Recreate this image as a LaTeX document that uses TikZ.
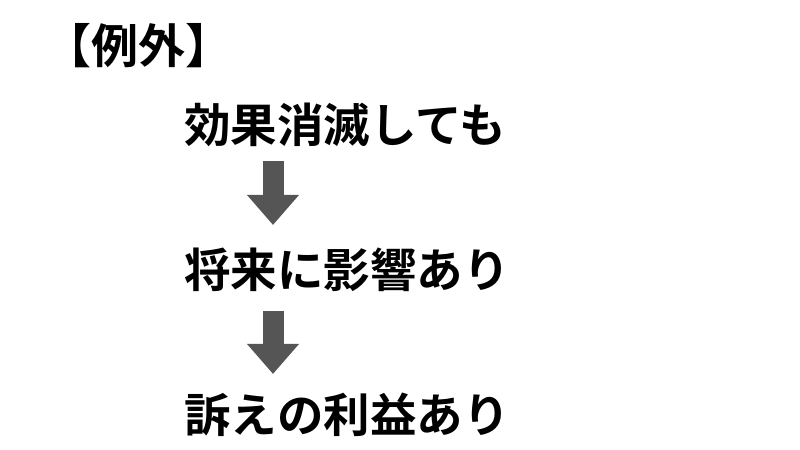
\documentclass[tikz,border=0pt]{standalone}
\usepackage{fontspec}
\newfontfamily\jpfont{Noto Sans CJK JP}[BoldFont={* Bold}]
\usetikzlibrary{arrows.meta,calc}
\definecolor{arrowgray}{HTML}{555555}
\begin{document}
\begin{tikzpicture}[x=1bp,y=-1bp]
    \useasboundingbox (0,0) rectangle (800,450);
    \tikzset{
      line/.style={anchor=west,inner sep=0,font=\jpfont\bfseries\fontsize{46.5bp}{50bp}\selectfont},
      downarrow/.style={arrowgray,line width=21bp,-{Triangle[width=50bp,length=30bp]}}
    }
    % heading
    \node[anchor=west,inner sep=0,font=\jpfont\bfseries\fontsize{47bp}{50bp}\selectfont] (head) at (44,46) {【例外】};
    % lines
    \node[line] (l1) at (184,125) {効果消滅しても};
    \node[line] (l2) at (184,270) {将来に影響あり};
    \node[line] (l3) at (184,415) {訴えの利益あり};
    % arrows
    \draw[downarrow] ($(l1.west)+(89,36)$) -- ($(l1.west)+(89,100)$);
    \draw[downarrow] ($(l2.west)+(89,41)$) -- ($(l2.west)+(89,104)$);
\end{tikzpicture}
\end{document}
